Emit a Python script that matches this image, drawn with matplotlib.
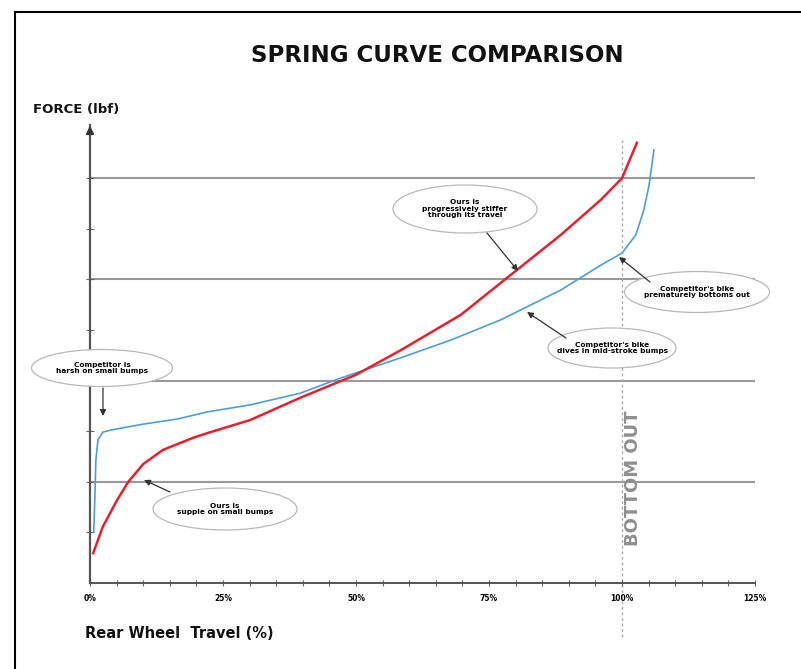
import matplotlib
matplotlib.use("Agg")
import matplotlib.pyplot as plt
from matplotlib.patches import Ellipse
from matplotlib.lines import Line2D
import numpy as np

# ---------------- data ----------------
ours_travel = [0.6, 2.4, 5.1, 7.2, 10.0, 13.7, 19.4, 22.6, 30.1, 39.5, 49.9, 58.4,
               69.7, 79.1, 88.5, 96.0, 100.0, 102.8]
ours_force = [59, 111, 164, 200, 235, 263, 287, 298, 322, 366, 411, 460,
              530, 609, 688, 757, 800, 870]

comp_travel = [0.7, 0.9, 1.1, 1.5, 2.4, 3.8, 10.0, 16.4, 22.0, 30.1, 39.5, 47.1,
               58.4, 67.8, 77.2, 88.5, 96.0, 100.0, 102.6, 104.1, 105.1, 106.0]
comp_force = [100, 164, 243, 283, 298, 302, 314, 324, 338, 352, 375, 405,
              445, 480, 520, 579, 628, 652, 688, 737, 787, 856]

x_ticks = [0, 25, 50, 75, 100, 125]
x_tick_labels = ["0%", "25%", "50%", "75%", "100%", "125%"]
grid_levels = [200, 400, 600, 800]

title = "SPRING CURVE COMPARISON"
y_label = "FORCE (lbf)"
x_label = "Rear Wheel  Travel (%)"
bottom_out = "BOTTOM OUT"

notes = [
    "Competitor is\nharsh on small bumps",
    "Ours is\nsupple on small bumps",
    "Ours is\nprogressively stiffer\nthrough its travel",
    "Competitor's bike\nprematurely bottoms out",
    "Competitor's bike\ndives in mid-stroke bumps",
]

# ---------------- figure ----------------
W, H = 801, 669
fig = plt.figure(figsize=(W / 100, H / 100), dpi=100)
fig.patch.set_facecolor("white")

ax_l, ax_r, ax_b, ax_t = 90, 755, 583, 125
ax = fig.add_axes([ax_l / W, (H - ax_b) / H, (ax_r - ax_l) / W, (ax_b - ax_t) / H])
XMAX = 125
YMAX = (ax_b - ax_t) / 50.6 * 100
ax.set_xlim(0, XMAX)
ax.set_ylim(0, YMAX)

def px(xp, yp):
    """pixel (from top-left of figure) -> data coordinates"""
    return ((xp - ax_l) / (ax_r - ax_l) * XMAX, (ax_b - yp) / (ax_b - ax_t) * YMAX)

def wpx(w):
    return w / (ax_r - ax_l) * XMAX

def hpx(h):
    return h / (ax_b - ax_t) * YMAX

for s in ["top", "right"]:
    ax.spines[s].set_visible(False)
ax.spines["left"].set_color("#555555")
ax.spines["bottom"].set_color("#555555")
ax.spines["left"].set_linewidth(1.6)
ax.spines["bottom"].set_linewidth(1.4)

ax.set_xticks(x_ticks)
ax.set_xticklabels(x_tick_labels, fontsize=5.5, fontweight="bold")
ax.set_xticks(np.arange(0, 126, 5), minor=True)
ax.set_yticks([])
ax.set_yticks(np.arange(100, 900, 100), minor=True)
ax.tick_params(axis="x", which="both", direction="inout", length=4, width=0.8,
               color="#666666", pad=6)
ax.tick_params(axis="y", which="minor", direction="inout", length=6, width=0.8,
               color="#666666")

# grid lines
for g in grid_levels:
    ax.axhline(g, color="#9a9a9a", lw=1.5, zorder=1)

# bottom-out line
ax.plot([100, 100], [px(0, 637)[1], px(0, 140)[1]], color="#aaaaaa", lw=1.0,
        ls=(0, (2, 2)), clip_on=False, zorder=1)
bx, by = px(633, 478)
ax.text(bx, by, bottom_out, rotation=90, ha="center", va="center", color="#8f8f8f",
        fontsize=13, fontweight="bold", zorder=2)

# y-axis arrow head
ax.annotate("", xy=(0, YMAX + hpx(2)), xytext=(0, YMAX - hpx(12)),
            arrowprops=dict(arrowstyle="-|>", color="#333333", lw=1.2,
                            mutation_scale=12), annotation_clip=False)

# curves
ax.plot(comp_travel, comp_force, color="#4a9fd8", lw=1.2, zorder=3, clip_on=False)
ax.plot(ours_travel, ours_force, color="#e8202e", lw=1.8, zorder=4, clip_on=False)

# annotations: ellipse centre/size (px), arrow start/end (px)
specs = [
    ((102, 368, 141, 37), (103, 388), (103, 416)),
    ((225, 509, 144, 42), (170, 492), (144, 480)),
    ((465, 209, 144, 48), (487, 233), (518, 271)),
    ((697, 292, 145, 41), (650, 282), (619, 257)),
    ((612, 348, 128, 40), (566, 338), (527, 312)),
]

for i, ((cx, cy, ew, eh), a0, a1) in enumerate(specs):
    c = px(cx, cy)
    e = Ellipse(c, wpx(ew), hpx(eh), facecolor="white", edgecolor="#b8b8b8",
                lw=0.9, clip_on=False, zorder=5)
    ax.add_patch(e)
    ax.text(c[0], c[1], notes[i], ha="center", va="center", fontsize=5.3,
            fontweight="bold", linespacing=1.1, zorder=6)
    ax.annotate("", xy=px(*a1), xytext=px(*a0),
                arrowprops=dict(arrowstyle="-|>", color="#333333", lw=0.9,
                                mutation_scale=9, shrinkA=0, shrinkB=0),
                annotation_clip=False, zorder=6)

# texts
fig.text(437 / W, 1 - 56 / H, title, ha="center", va="center", fontsize=16.5,
         fontweight="heavy", color="#111111")
fig.text(33 / W, 1 - 110 / H, y_label, ha="left", va="center", fontsize=9.5,
         fontweight="bold", color="#111111")
fig.text(85 / W, 1 - 633 / H, x_label, ha="left", va="center", fontsize=10.5,
         fontweight="bold", color="#111111")

# outer frame (left and top visible)
fig.add_artist(Line2D([15 / W, 15 / W], [0, 1 - 12 / H], color="black", lw=1.5,
                      transform=fig.transFigure))
fig.add_artist(Line2D([15 / W, 1], [1 - 12 / H, 1 - 12 / H], color="black", lw=1.5,
                      transform=fig.transFigure))

fig.savefig("out.png", dpi=100, facecolor="white")
